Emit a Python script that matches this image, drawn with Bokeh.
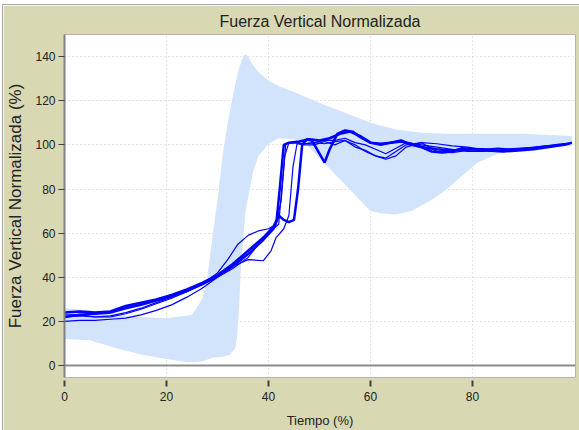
from bokeh.plotting import figure
from bokeh.models import Range1d, Span, FixedTicker
from bokeh.embed import file_html
from bokeh.resources import INLINE

# ---- data ----
band_upper_x = [0, 5, 10, 15, 20, 25, 27, 28, 29, 30, 31, 32, 33, 34, 35, 35.5, 36, 37, 38, 40, 42, 45, 50, 55, 60, 65, 70, 75, 80, 85, 90, 95, 99.5]
band_upper_y = [26, 25, 23, 22, 21.5, 23, 30, 40, 58, 75, 95, 110, 122, 133, 140, 141, 140, 136, 133, 129, 126.5, 124, 119, 114.5, 110, 107, 105.5, 105, 105, 105, 105, 104.5, 104]
band_lower_x = [0, 5, 10, 15, 20, 24, 27, 29, 31, 32.5, 33.5, 33.8, 34.2, 34.6, 35.5, 37, 38, 40, 42, 45, 47.5, 50, 55, 60, 62, 65, 68, 72, 75, 78, 81, 85, 90, 95, 99.5]
band_lower_y = [12, 11.5, 8, 5, 3, 1.5, 1.8, 3.5, 4, 5, 8, 12, 25, 45, 70, 88, 95, 100.5, 103, 102.5, 100, 94, 82, 70, 69, 68.5, 70, 75, 80, 86, 92, 96, 98.5, 99.2, 99.5]

trial_a_x = [0, 3, 6, 9, 12, 15, 18, 21, 24, 27, 30, 33, 36, 39, 41, 41.6, 42.2, 43, 44, 46, 48, 50, 52, 54, 56, 58, 60, 62, 64, 66, 68, 70, 73, 76, 79, 82, 85, 88, 91, 94, 97, 99]
trial_a_y = [24, 24.5, 24, 24.5, 27, 28.5, 30, 32, 34.5, 37.5, 41, 46, 52, 58, 63, 66, 80, 100, 101, 101.5, 102.5, 102, 103, 105, 106, 104, 101, 100.5, 101, 101.5, 100.5, 99, 98, 97.5, 98, 98, 97.5, 98, 98.5, 99, 100, 100.5]

trial_b_x = [0, 3, 6, 9, 12, 15, 18, 21, 24, 27, 30, 33, 36, 39, 41, 42, 43, 44, 45, 45.8, 46.6, 47.5, 48.5, 50, 51, 52, 53.5, 55, 56.5, 58, 60, 62, 64, 66, 68, 70, 72, 74, 76, 78, 80, 83, 86, 89, 92, 95, 98, 99.5]
trial_b_y = [22, 23, 23.5, 24, 26, 27.5, 29.5, 31.5, 34, 37, 40.5, 45, 50.5, 57, 62, 68, 66, 65, 66, 80, 100, 102.5, 102, 96, 92, 98, 105, 106.5, 106, 103.5, 101, 100, 101, 102, 100, 99, 97, 96.5, 97, 98.5, 98, 97.5, 97, 97.5, 98, 99, 100, 101]

trial_c_x = [0, 3, 6, 9, 12, 15, 18, 21, 24, 27, 30, 32, 34, 36, 38, 40, 41.5, 42.5, 43.2, 44, 45, 47, 49, 51, 53, 55, 57, 59, 61, 63, 65, 67, 70, 73, 76, 79, 82, 85, 88, 91, 94, 97, 99]
trial_c_y = [23, 23, 22, 22, 23.5, 25.5, 28, 30.5, 33.5, 37, 42, 48, 55, 59, 61, 62, 64, 75, 95, 101, 101, 100.5, 101, 100.5, 101.5, 102, 99, 97.5, 95, 94, 97, 100, 101, 100.5, 99.5, 99, 98, 98.5, 98, 98.5, 99.5, 100, 100.5]

trial_d_x = [0, 3, 6, 9, 12, 15, 18, 21, 24, 27, 30, 33, 36, 39, 40.5, 41.5, 43, 44, 44.8, 45.6, 47, 49, 51, 53, 55, 57, 59, 61, 63, 65, 67, 70, 73, 76, 79, 82, 85, 88, 91, 94, 97, 99]
trial_d_y = [20, 20.5, 20.5, 21, 21.5, 23, 25, 27.5, 31, 35, 40, 45, 48, 47.5, 52, 58, 62, 68, 90, 100.5, 100, 100, 101.5, 100, 102, 100, 97, 95, 93.5, 95, 99, 101, 97, 96.5, 97.5, 98, 97, 97.5, 98.5, 99, 100, 100.5]

trial_e_x = [0, 3, 6, 9, 12, 15, 18, 21, 24, 27, 30, 33, 36, 38, 40, 41, 42, 42.6, 43.4, 45, 47, 49, 51, 53, 55, 57, 59, 61, 63, 65, 67, 70, 73, 76, 79, 82, 85, 88, 91, 94, 97, 99]
trial_e_y = [22, 22.5, 22, 22.5, 24, 26, 28.5, 31, 33.5, 36.5, 40, 44, 49, 55, 60, 62, 64, 80, 100.5, 101, 100.5, 101, 102, 102, 103, 101, 100, 98, 96, 98.5, 101, 100, 99, 98, 97, 97, 97.5, 98, 98.5, 99, 100, 100.5]

x_ticks = [0, 20, 40, 60, 80]
y_ticks = [0, 20, 40, 60, 80, 100, 120, 140]

FONT = "Liberation Sans"
BEIGE = "#D8D8B2"

p = figure(frame_width=511, frame_height=343, output_backend="svg", toolbar_location=None,
           x_range=Range1d(0, 100.2), y_range=Range1d(-5.4, 150),
           title="Fuerza Vertical Normalizada",
           min_border_left=57, min_border_right=4, min_border_top=28, min_border_bottom=52,
           styles={"margin-left": "2px", "margin-top": "4px",
                   "border-left": "1px solid #A8A8A8", "border-top": "1px solid #A8A8A8"})
p.border_fill_color = BEIGE
p.background_fill_color = "white"
p.outline_line_color = "#B4B4B4"

p.title.align = "center"
p.title.text_font = FONT
p.title.text_font_size = "16px"
p.title.text_font_style = "normal"
p.title.text_color = "#222222"
p.title.offset = 0

# band
band_x = band_upper_x + band_lower_x[::-1]
band_y = band_upper_y + band_lower_y[::-1]
p.patch(band_x, band_y, fill_color="#D2E4FC", line_color=None)

# zero line
p.add_layout(Span(location=0, dimension="width", line_color="#8C8C8C", line_width=2))

for xs, ys, w in [(trial_d_x, trial_d_y, 1.2), (trial_c_x, trial_c_y, 1.2), (trial_e_x, trial_e_y, 1.2),
                  (trial_b_x, trial_b_y, 2.5), (trial_a_x, trial_a_y, 2.5)]:
    p.line(xs, ys, line_color="#0000FF", line_width=w)

# grid
for g in (p.xgrid, p.ygrid):
    g.grid_line_color = "#C8C8C8"
    g.grid_line_dash = "1 3"
p.xgrid.ticker = FixedTicker(ticks=[20, 40, 60, 80])
p.ygrid.ticker = FixedTicker(ticks=[20, 40, 60, 80, 100, 120, 140])

# axes
p.xaxis.ticker = FixedTicker(ticks=x_ticks)
p.yaxis.ticker = FixedTicker(ticks=y_ticks)
p.xaxis.axis_label = "Tiempo (%)"
p.yaxis.axis_label = "Fuerza Vertical Normalizada (%)"
for ax in (p.xaxis[0], p.yaxis[0]):
    ax.major_label_text_font = FONT
    ax.major_label_text_font_size = "12px"
    ax.major_label_text_color = "#222222"
    ax.axis_label_text_font = FONT
    ax.axis_label_text_font_style = "normal"
    ax.axis_label_text_color = "#222222"
    ax.minor_tick_line_color = None
    ax.major_tick_line_color = "#404040"
    ax.major_tick_in = 0

p.xaxis.axis_line_color = None
p.xaxis.major_tick_in = -3
p.xaxis.major_tick_out = 9
p.xaxis.major_tick_line_width = 2
p.xaxis.major_label_standoff = 5
p.xaxis.axis_label_text_font_size = "13px"
p.xaxis.axis_label_standoff = 9

p.yaxis.axis_line_color = "#808080"
p.yaxis.axis_line_width = 2
p.yaxis.major_tick_out = 6
p.yaxis.major_label_standoff = 3
p.yaxis.axis_label_text_font_size = "17px"
p.yaxis.axis_label_standoff = 7

open("out.html", "w").write(file_html(p, INLINE))
